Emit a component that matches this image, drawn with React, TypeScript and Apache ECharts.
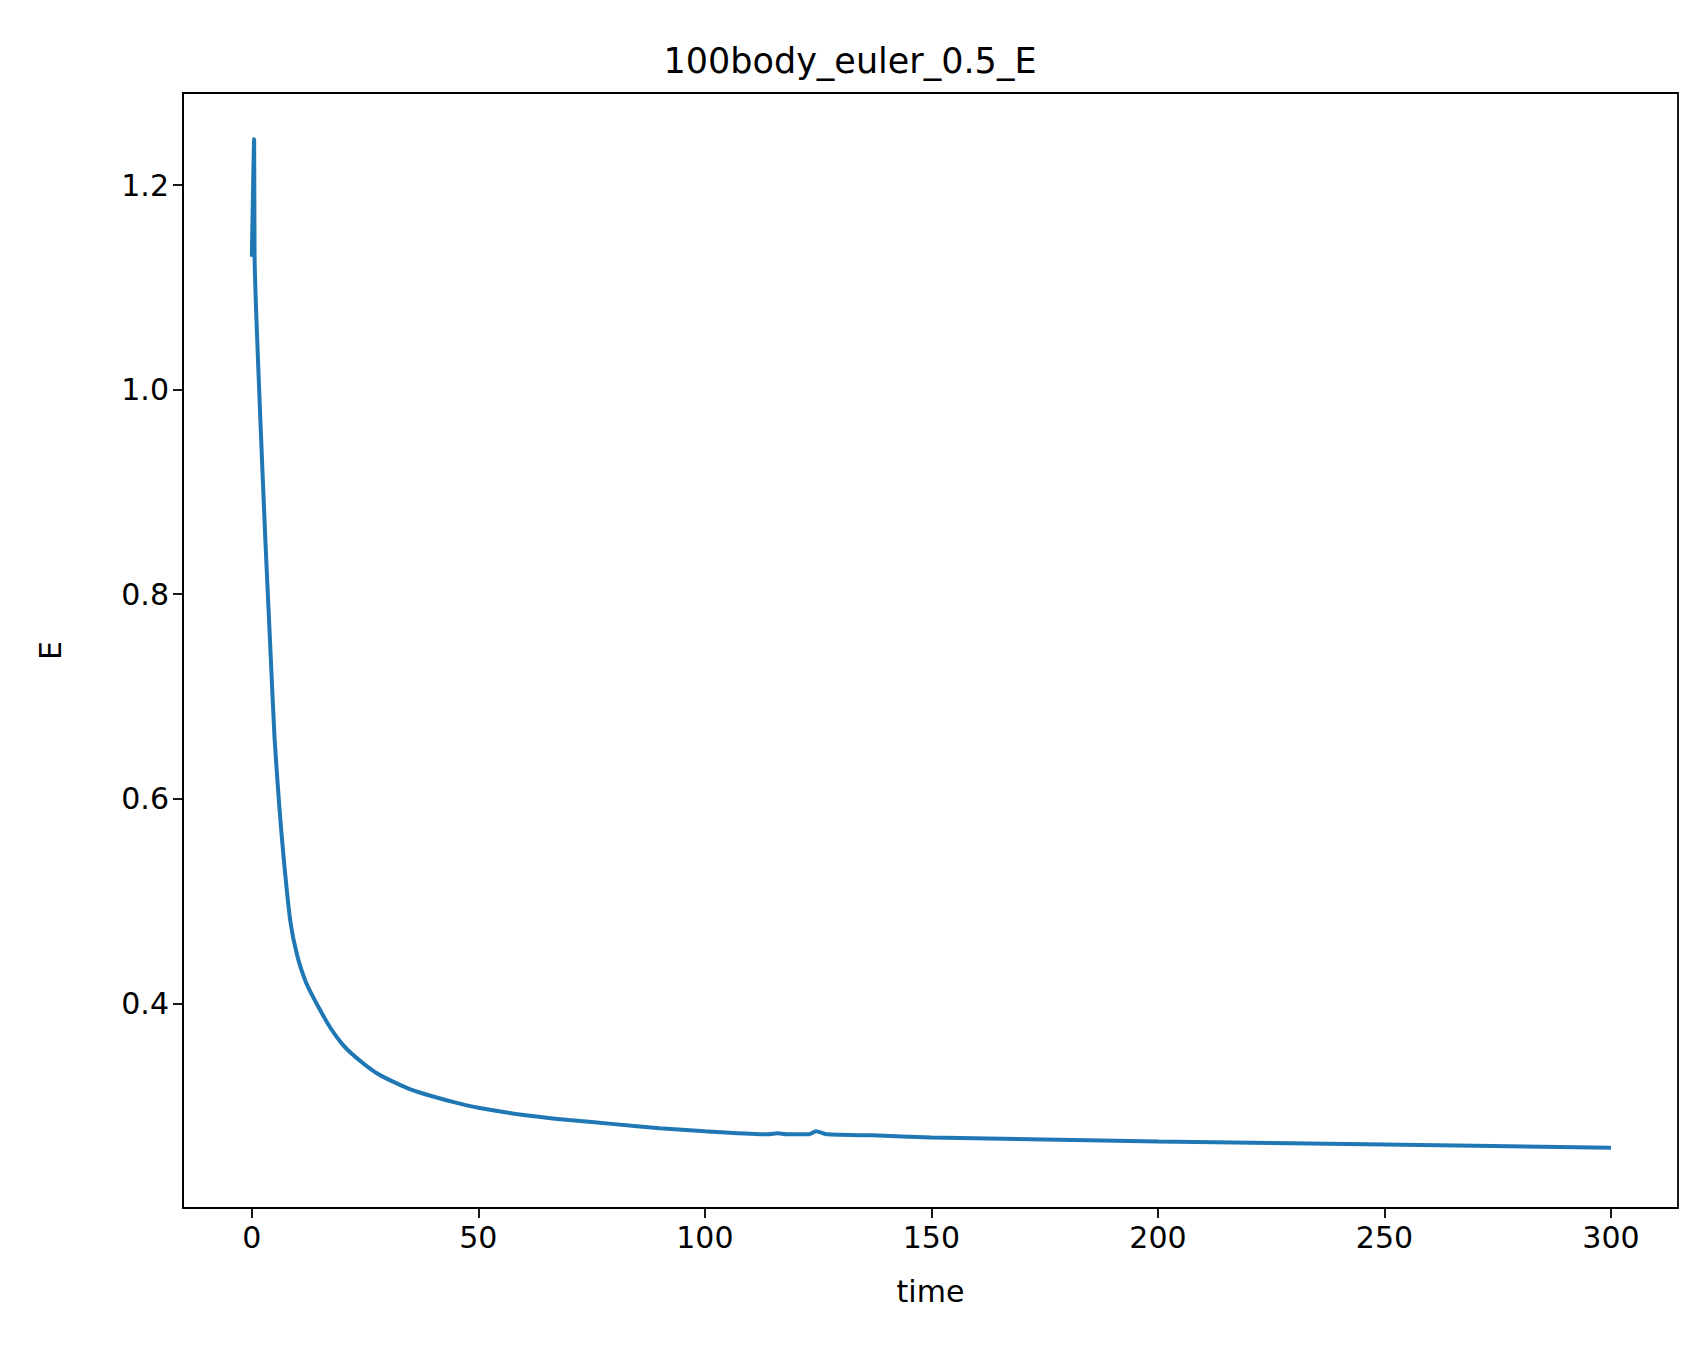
import React, { useEffect, useRef } from "react";
import * as echarts from "echarts";

const times = [0, 0.5, 0.6, 1, 2, 3, 4, 5, 6, 7, 8.5, 10, 12, 15, 17.5, 20, 22.5, 25, 27.5, 30, 35, 40, 45, 50, 60, 70, 80, 90, 100, 114, 116, 118, 123, 124.5, 127, 137, 150, 175, 200, 250, 300];
const energy = [1.13, 1.245, 1.13, 1.07, 0.957, 0.851, 0.755, 0.66, 0.596, 0.543, 0.48, 0.447, 0.42, 0.394, 0.375, 0.36, 0.349, 0.34, 0.332, 0.326, 0.316, 0.309, 0.303, 0.298, 0.291, 0.286, 0.282, 0.278, 0.275, 0.272, 0.273, 0.272, 0.272, 0.275, 0.272, 0.271, 0.269, 0.267, 0.265, 0.262, 0.259];
const xTicks = [0, 50, 100, 150, 200, 250, 300];
const yTicks = [0.4, 0.6, 0.8, 1.0, 1.2];

const App: React.FC = () => {
  const chartRef = useRef<HTMLDivElement>(null);

  useEffect(() => {
    document.body.style.margin = "0";
    if (!chartRef.current) return;
    const chart = echarts.init(chartRef.current, undefined, { renderer: "svg" });
    const font = "DejaVu Sans";
    chart.setOption({
      animation: false,
      title: {
        text: "100body_euler_0.5_E",
        left: "center",
        top: 38,
        textStyle: { fontFamily: font, fontSize: 35, fontWeight: "normal", color: "#000" },
      },
      grid: { left: 183, right: 22, top: 93, bottom: 149, show: true, borderColor: "#000", borderWidth: 1.8 },
      xAxis: {
        type: "value",
        min: -15.2,
        max: 314.8,
        name: "time",
        nameLocation: "middle",
        nameGap: 68,
        nameTextStyle: { fontFamily: font, fontSize: 30, color: "#000" },
        splitLine: { show: false },
        axisLine: { show: true, onZero: false, lineStyle: { color: "#000", width: 1.8 } },
        axisTick: { show: true, length: 10, lineStyle: { color: "#000", width: 1.8 }, customValues: xTicks },
        axisLabel: { fontFamily: font, fontSize: 30, color: "#000", margin: 14, customValues: xTicks },
      },
      yAxis: {
        type: "value",
        min: 0.2,
        max: 1.29,
        name: "E",
        nameLocation: "middle",
        nameGap: 118,
        nameTextStyle: { fontFamily: font, fontSize: 30, color: "#000" },
        splitLine: { show: false },
        axisLine: { show: true, onZero: false, lineStyle: { color: "#000", width: 1.8 } },
        axisTick: { show: true, length: 10, lineStyle: { color: "#000", width: 1.8 }, customValues: yTicks },
        axisLabel: {
          fontFamily: font,
          fontSize: 30,
          color: "#000",
          margin: 14,
          customValues: yTicks,
          formatter: (v: number) => v.toFixed(1),
        },
      },
      series: [
        {
          type: "line",
          data: times.map((t, i) => [t, energy[i]]),
          showSymbol: false,
          smooth: 0.2,
          lineStyle: { color: "#1f77b4", width: 4 },
        },
      ],
    });
    return () => chart.dispose();
  }, []);

  return <div ref={chartRef} style={{ width: 1700, height: 1357 }} />;
};

export default App;
